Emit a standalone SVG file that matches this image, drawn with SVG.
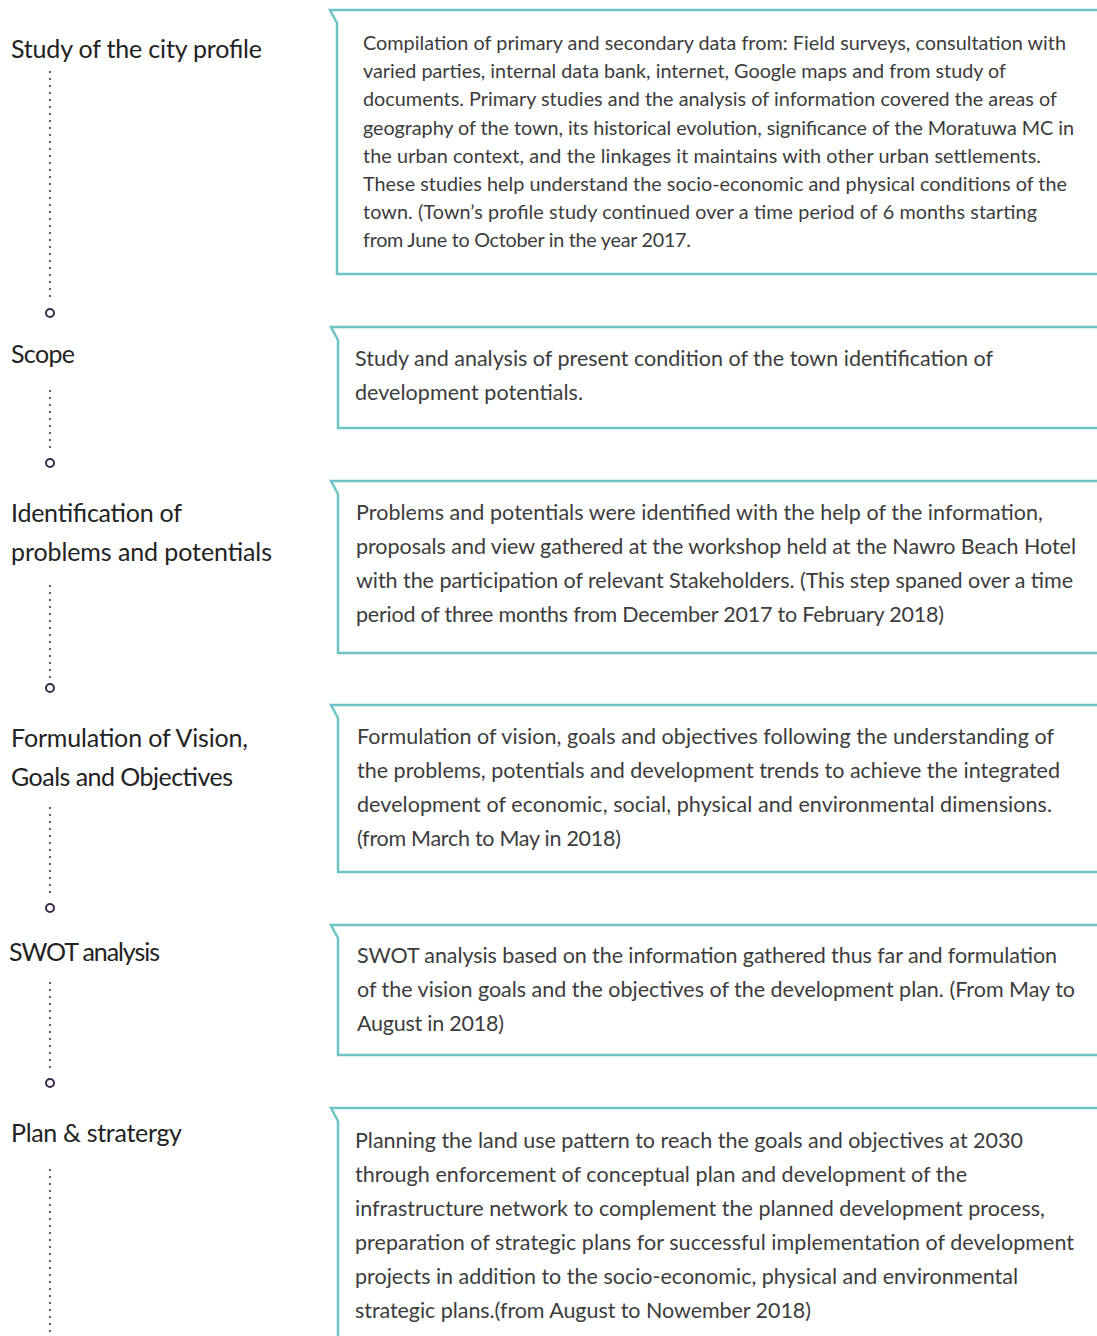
<svg xmlns="http://www.w3.org/2000/svg" width="1097" height="1336" viewBox="0 0 1097 1336">
<style>
.box{fill:none;stroke:#6cc4c4;stroke-width:2.5}
.lbl{font-family:Lato,"Open Sans",sans-serif;font-size:25px;fill:#222}
.txt{font-family:Lato,"Open Sans",sans-serif;font-size:21.5px;fill:#3c3c3c}
.t1{font-size:19.8px}
.dots{stroke:#4a3358;stroke-width:2.2;stroke-linecap:round;stroke-dasharray:0 7;fill:none}
.dot{fill:#fff;stroke:#3b2a4d;stroke-width:2}
</style>
<rect width="1097" height="1336" fill="#fff"/>
<g id="connectors">
<line class="dots" x1="50" y1="72" x2="50" y2="303"/>
<circle class="dot" cx="50" cy="313" r="4"/>
<line class="dots" x1="50" y1="391" x2="50" y2="454"/>
<circle class="dot" cx="50" cy="463" r="4"/>
<line class="dots" x1="50" y1="586" x2="50" y2="678"/>
<circle class="dot" cx="50" cy="688" r="4"/>
<line class="dots" x1="50" y1="808" x2="50" y2="899"/>
<circle class="dot" cx="50" cy="908" r="4"/>
<line class="dots" x1="50" y1="983" x2="50" y2="1074"/>
<circle class="dot" cx="50" cy="1083" r="4"/>
<line class="dots" x1="50" y1="1170" x2="50" y2="1336"/>
</g>
<g id="node1">
<text class="lbl" x="11" y="58" textLength="251">Study of the city profile</text>
<path class="box" d="M1097,10 H330 L337,23 V274 H1097"/>
<text class="txt t1" x="363" y="50" textLength="703">Compilation of primary and secondary data from: Field surveys, consultation with</text>
<text class="txt t1" x="363" y="78.2" textLength="643">varied parties, internal data bank, internet, Google maps and from study of</text>
<text class="txt t1" x="363" y="106.4" textLength="694">documents. Primary studies and the analysis of information covered the areas of</text>
<text class="txt t1" x="363" y="134.6" textLength="711">geography of the town, its historical evolution, significance of the Moratuwa MC in</text>
<text class="txt t1" x="363" y="162.8" textLength="678">the urban context, and the linkages it maintains with other urban settlements.</text>
<text class="txt t1" x="363" y="191" textLength="704">These studies help understand the socio-economic and physical conditions of the</text>
<text class="txt t1" x="363" y="219.2" textLength="674">town. (Town’s profile study continued over a time period of 6 months starting</text>
<text class="txt t1" x="363" y="247.4" textLength="328">from June to October in the year 2017.</text>
</g>
<g id="node2">
<text class="lbl" x="11" y="363" textLength="64">Scope</text>
<path class="box" d="M1097,327 H331 L338,340 V428 H1097"/>
<text class="txt" x="355" y="366" textLength="638">Study and analysis of present condition of the town identification of</text>
<text class="txt" x="355" y="400" textLength="228">development potentials.</text>
</g>
<g id="node3">
<text class="lbl" x="11" y="522" textLength="171">Identification of</text>
<text class="lbl" x="11" y="561" textLength="261">problems and potentials</text>
<path class="box" d="M1097,481 H331 L338,494 V653 H1097"/>
<text class="txt" x="356" y="520" textLength="687">Problems and potentials were identified with the help of the information,</text>
<text class="txt" x="356" y="554" textLength="720">proposals and view gathered at the workshop held at the Nawro Beach Hotel</text>
<text class="txt" x="356" y="588" textLength="717">with the participation of relevant Stakeholders. (This step spaned over a time</text>
<text class="txt" x="356" y="622" textLength="588">period of three months from December 2017 to February 2018)</text>
</g>
<g id="node4">
<text class="lbl" x="11" y="747" textLength="237">Formulation of Vision,</text>
<text class="lbl" x="11" y="786" textLength="222">Goals and Objectives</text>
<path class="box" d="M1097,705 H331 L338,718 V872 H1097"/>
<text class="txt" x="357" y="744" textLength="697">Formulation of vision, goals and objectives following the understanding of</text>
<text class="txt" x="357" y="778" textLength="703">the problems, potentials and development trends to achieve the integrated</text>
<text class="txt" x="357" y="812" textLength="695">development of economic, social, physical and environmental dimensions.</text>
<text class="txt" x="357" y="846" textLength="264">(from March to May in 2018)</text>
</g>
<g id="node5">
<text class="lbl" x="9" y="961" textLength="151">SWOT analysis</text>
<path class="box" d="M1097,925 H331 L338,938 V1055 H1097"/>
<text class="txt" x="357" y="963" textLength="700">SWOT analysis based on the information gathered thus far and formulation</text>
<text class="txt" x="357" y="997" textLength="718">of the vision goals and the objectives of the development plan. (From May to</text>
<text class="txt" x="357" y="1031" textLength="147">August in 2018)</text>
</g>
<g id="node6">
<text class="lbl" x="11" y="1142" textLength="171">Plan &amp; stratergy</text>
<path class="box" d="M1097,1108 H331 L338,1121 V1340"/>
<text class="txt" x="355" y="1148" textLength="668">Planning the land use pattern to reach the goals and objectives at 2030</text>
<text class="txt" x="355" y="1182" textLength="612">through enforcement of conceptual plan and development of the</text>
<text class="txt" x="355" y="1216" textLength="690">infrastructure network to complement the planned development process,</text>
<text class="txt" x="355" y="1250" textLength="719">preparation of strategic plans for successful implementation of development</text>
<text class="txt" x="355" y="1284" textLength="663">projects in addition to the socio-economic, physical and environmental</text>
<text class="txt" x="355" y="1318" textLength="456">strategic plans.(from August to Nowember 2018)</text>
</g>
</svg>
